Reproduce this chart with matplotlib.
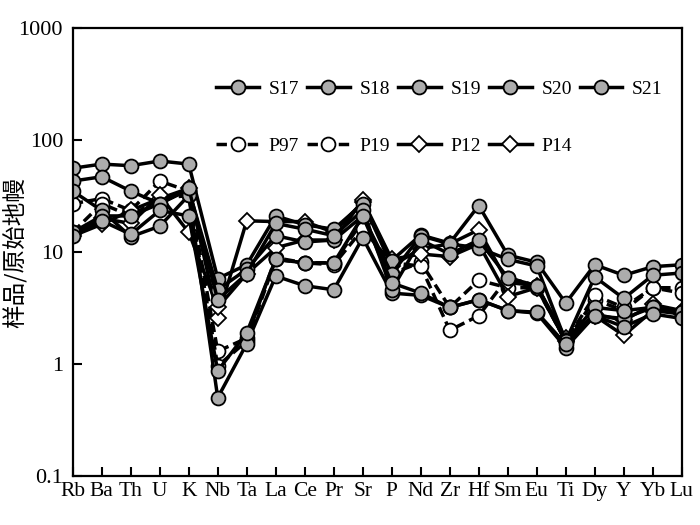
import matplotlib
matplotlib.use('Agg')
import matplotlib.pyplot as plt
import numpy as np

# Elementos (eixo x)
elementos = ['Rb', 'Ba', 'Th', 'U', 'K', 'Nb', 'Ta', 'La', 'Ce', 'Pr', 'Sr',
             'P', 'Nd', 'Zr', 'Hf', 'Sm', 'Eu', 'Ti', 'Dy', 'Y', 'Yb', 'Lu']

# Amostras / manto primitivo
S17 = [56, 61, 59, 65, 61, 5.8, 7.7, 21, 17.5, 16, 27, 8.4, 14.2, 12, 26, 9.4, 8.1, 3.5, 7.7, 6.2, 7.4, 7.7]
S18 = [43, 47, 35, 27, 36, 4.6, 7.0, 14, 12.3, 12.8, 21, 6.4, 14, 11.8, 10.9, 8.6, 7.5, 1.6, 6.0, 3.85, 6.2, 6.5]
S19 = [35, 23.5, 13.7, 17, 32, 0.5, 1.52, 6.1, 5.0, 4.6, 13.4, 4.3, 4.1, 3.2, 3.75, 3.0, 2.85, 1.4, 2.7, 2.55, 3.2, 2.9]
S20 = [15, 21, 21, 27, 37, 3.75, 6.4, 18, 16, 14, 23.5, 4.6, 12.8, 9.6, 12.8, 5.9, 5.0, 1.6, 3.2, 3.0, 3.2, 2.9]
S21 = [13.9, 19, 14.4, 23.5, 21, 0.87, 1.9, 8.6, 8, 8, 21, 5.3, 4.3, 3.2, 3.75, 3.0, 2.9, 1.5, 2.7, 2.15, 2.8, 2.55]
P97 = [27, 30, 23.5, 43, 35, 1.3, 1.7, 8.9, 8, 8, 19, 6.4, 8.1, 3.2, 5.6, 4.8, 4.8, 1.6, 3.75, 3.0, 4.8, 4.8]
P19 = [15, 27, 21, 30, 32, 0.96, 1.6, 8.6, 8, 7.7, 16, 8, 7.5, 2.0, 2.7, 5.9, 5.0, 1.6, 4.1, 3.2, 4.8, 4.3]
P12 = [13.9, 17.7, 23.5, 30, 37, 2.6, 19, 18.7, 18.7, 15, 28, 7.5, 10.7, 11.8, 15.8, 5.35, 5.0, 1.7, 2.7, 1.8, 3.0, 2.8]
P14 = [14.4, 20, 18, 32, 15, 3.2, 6.4, 10.9, 12.8, 12.8, 29, 8.6, 9.6, 9.1, 11.8, 4.0, 4.8, 1.6, 2.8, 2.45, 3.4, 3.0]

series_s = [('S17', S17), ('S18', S18), ('S19', S19), ('S20', S20), ('S21', S21)]
series_p = [('P97', P97, 'o', '--'), ('P19', P19, 'o', '--'), ('P12', P12, 'D', '-'), ('P14', P14, 'D', '-')]

plt.rcParams['font.family'] = ['Liberation Serif', 'Noto Sans CJK SC']

fig = plt.figure(figsize=(7, 5.25), dpi=100)
ax = fig.add_axes([0.1039, 0.0933, 0.87, 0.8533])

x = np.arange(len(elementos))
handles = {}

for nome, vals, mk, ls in series_p:
    ms = 10 if mk == 'o' else 8
    h, = ax.plot(x, vals, color='black', lw=2.5, ls=ls, dashes=(3, 1.5) if ls == '--' else (None, None),
                 marker=mk, ms=ms, mfc='white', mec='black', mew=1.3, label=nome)
    handles[nome] = h

for nome, vals in series_s:
    h, = ax.plot(x, vals, color='black', lw=2.5, marker='o', ms=10,
                 mfc='#acacac', mec='black', mew=1.3, label=nome)
    handles[nome] = h

ax.set_yscale('log')
ax.set_ylim(0.1, 1000)
ax.set_xlim(0, len(elementos) - 1)
ax.set_yticks([0.1, 1, 10, 100, 1000], labels=['0.1', '1', '10', '100', '1000'])
ax.yaxis.set_minor_locator(matplotlib.ticker.NullLocator())
ax.set_xticks(x, labels=elementos)
ax.tick_params(axis='both', which='major', direction='in', length=6.3, width=1.5)
ax.tick_params(axis='x', pad=4, labelsize=15.5)
ax.tick_params(axis='y', pad=7, labelsize=16)
for s in ax.spines.values():
    s.set_linewidth(1.6)

ax.set_ylabel('样品/原始地幔', family='Noto Sans CJK SC', fontsize=17)
ax.yaxis.set_label_coords(-0.075, 0.5)

# ordem para preencher por colunas
ordem = ['S17', 'P97', 'S18', 'P19', 'S19', 'P12', 'S20', 'P14', 'S21']
ax.legend([handles[n] for n in ordem], ordem, ncol=5, loc='upper left',
          bbox_to_anchor=(0.207, 0.922), frameon=False, fontsize=14,
          handlelength=2.2, handletextpad=0.5, columnspacing=0.4, labelspacing=2.0)

fig.savefig('out.png', dpi=100)
